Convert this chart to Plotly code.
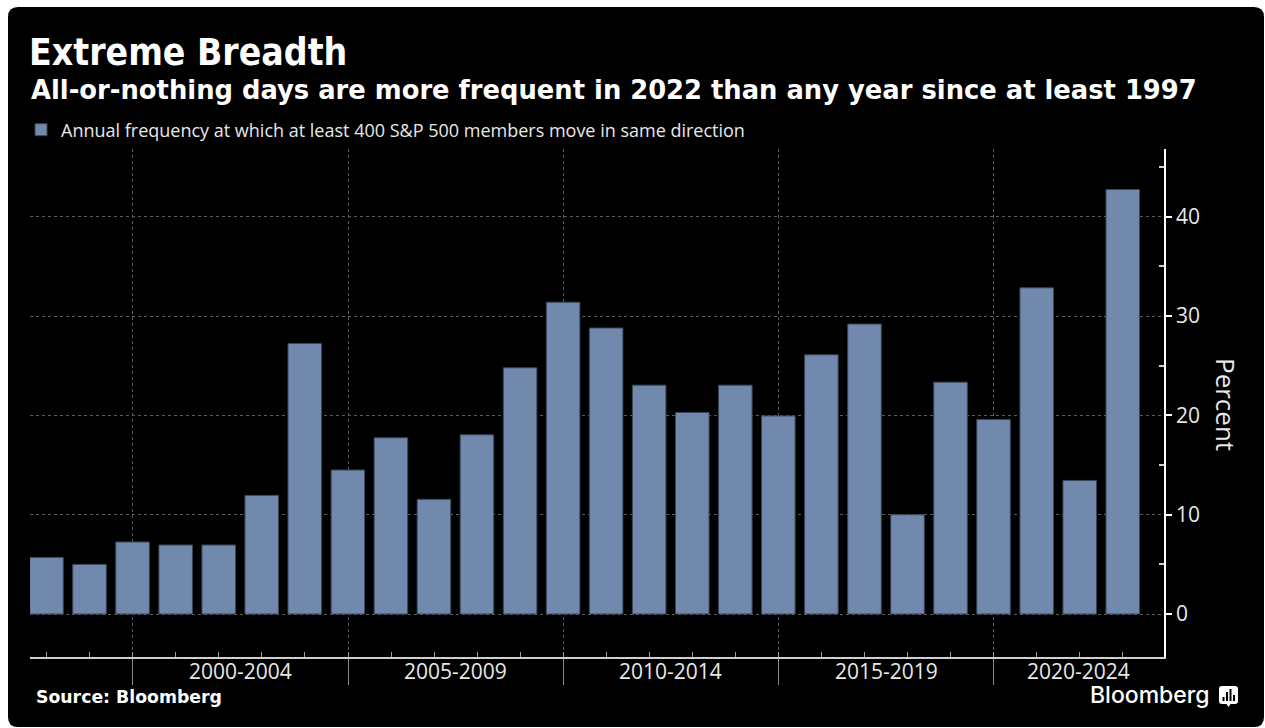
import pandas as pd
import plotly.graph_objects as go

# ---------------- data ----------------
years = list(range(1997, 2023))
frequency = [5.7, 5.0, 7.25, 6.95, 6.95, 11.95, 27.25, 14.5, 17.75, 11.55,
             18.05, 24.8, 31.4, 28.8, 23.05, 20.3, 23.05, 19.95, 26.1, 29.2,
             10.0, 23.35, 19.6, 32.85, 13.45, 42.75]
period_starts = ["2000-01-01", "2005-01-01", "2010-01-01", "2015-01-01", "2020-01-01"]
period_labels = ["2000-2004", "2005-2009", "2010-2014", "2015-2019", "2020-2024"]
y_ticks = [0, 10, 20, 30, 40]
x_range = ["1997-08-13", "2023-12-16"]
y_range = [-4.33, 46.83]
series_name = "Annual frequency at which at least 400 S&P 500 members move in same direction"

# ---------------- layout geometry ----------------
W, H = 1265, 728
ML, MR, MT, MB = 30, 101, 149, 71
PW, PH = W - ML - MR, H - MT - MB


def px(x):
    return (x - ML) / PW


def py(y):
    return (H - MB - y) / PH


BAR = "#7089ac"
TXT = "#e8e8e8"
GRID = "#5c5c5c"
COND_FONT = "DejaVu Sans Condensed, DejaVu Sans, Verdana, sans-serif"
WIDE_FONT = "DejaVu Sans, Verdana, sans-serif"
BODY_FONT = "Open Sans, Noto Sans, sans-serif"

bar_dates = [f"{y}-12-31" for y in years]

fig = go.Figure()
fig.add_trace(go.Bar(
    x=bar_dates, y=frequency, name=series_name,
    marker=dict(color=BAR, line=dict(color="#3a4658", width=1)),
    showlegend=True,
))

# rounded black card
x0, x1, y0, y1, r = 8, 1264, 7, 727, 10
path = (f"M {px(x0 + r)} {py(y0)} L {px(x1 - r)} {py(y0)} "
        f"Q {px(x1)} {py(y0)} {px(x1)} {py(y0 + r)} "
        f"L {px(x1)} {py(y1 - r)} Q {px(x1)} {py(y1)} {px(x1 - r)} {py(y1)} "
        f"L {px(x0 + r)} {py(y1)} Q {px(x0)} {py(y1)} {px(x0)} {py(y1 - r)} "
        f"L {px(x0)} {py(y0 + r)} Q {px(x0)} {py(y0)} {px(x0 + r)} {py(y0)} Z")
shapes = [dict(type="path", xref="paper", yref="paper", path=path,
               fillcolor="black", line=dict(width=0), layer="below")]

# Bloomberg icon (speech-bubble with bars)
ix0, ix1, iy0, iy1, ir = 1219, 1238, 686, 704, 3
ipath = (f"M {px(ix0 + ir)} {py(iy0)} L {px(ix1 - ir)} {py(iy0)} "
         f"Q {px(ix1)} {py(iy0)} {px(ix1)} {py(iy0 + ir)} "
         f"L {px(ix1)} {py(iy1 - ir)} Q {px(ix1)} {py(iy1)} {px(ix1 - ir)} {py(iy1)} "
         f"L {px(1230.5)} {py(iy1)} L {px(1228.5)} {py(iy1 + 3)} L {px(1226.5)} {py(iy1)} "
         f"L {px(ix0 + ir)} {py(iy1)} Q {px(ix0)} {py(iy1)} {px(ix0)} {py(iy1 - ir)} "
         f"L {px(ix0)} {py(iy0 + ir)} Q {px(ix0)} {py(iy0)} {px(ix0 + ir)} {py(iy0)} Z")
shapes.append(dict(type="path", xref="paper", yref="paper", path=ipath,
                   fillcolor="white", line=dict(width=0)))
for bx, btop in [(1222.5, 697), (1226, 692), (1229.5, 689), (1233, 695)]:
    shapes.append(dict(type="rect", xref="paper", yref="paper",
                       x0=px(bx), x1=px(bx + 2), y0=py(701), y1=py(btop),
                       fillcolor="black", line=dict(width=0)))

annotations = []
# period labels centred in each (visible) period
end = pd.Timestamp(x_range[1])
for i, (s, lab) in enumerate(zip(period_starts, period_labels)):
    a = pd.Timestamp(s)
    b = pd.Timestamp(period_starts[i + 1]) if i + 1 < len(period_starts) else end
    mid = a + (b - a) / 2
    annotations.append(dict(x=mid.strftime("%Y-%m-%d %H:%M"), xref="x", y=py(671), yref="paper",
                            text=lab, showarrow=False, xanchor="center", yanchor="middle",
                            font=dict(family=BODY_FONT, size=21, color=TXT)))

annotations += [
    dict(x=px(29), y=py(90), xref="paper", yref="paper", xanchor="left", yanchor="middle",
         text="<b>All-or-nothing days are more frequent in 2022 than any year since at least 1997</b>",
         showarrow=False, font=dict(family=WIDE_FONT, size=25.8, color="white")),
    dict(x=px(1226), y=py(404), xref="paper", yref="paper", xanchor="center", yanchor="middle",
         text="Percent", textangle=90, showarrow=False,
         font=dict(family=BODY_FONT, size=26, color=TXT)),
    dict(x=px(34), y=py(697), xref="paper", yref="paper", xanchor="left", yanchor="middle",
         text="<b>Source: Bloomberg</b>", showarrow=False,
         font=dict(family=WIDE_FONT, size=17.3, color="white")),
    dict(x=px(1212), y=py(695), xref="paper", yref="paper", xanchor="right", yanchor="middle",
         text="Bloomberg", showarrow=False,
         font=dict(family="Inter, Roboto, sans-serif", size=23, color="white", weight=500)),
]

fig.update_layout(
    width=W, height=H,
    margin=dict(l=ML, r=MR, t=MT, b=MB, pad=0),
    paper_bgcolor="white", plot_bgcolor="rgba(0,0,0,0)",
    bargap=0.22,
    title=dict(text="<b>Extreme Breadth</b>", x=29 / W, xanchor="left", xref="container",
               y=1 - 52 / H, yanchor="middle",
               font=dict(family=COND_FONT, size=37, color="white")),
    legend=dict(orientation="h", x=px(21), y=py(130), xanchor="left", yanchor="middle",
                bgcolor="rgba(0,0,0,0)", font=dict(family=BODY_FONT, size=18, color=TXT)),
    xaxis=dict(type="date", range=x_range, tickmode="array", tickvals=period_starts,
               showticklabels=False, ticks="outside", ticklen=26, tickcolor="#8a8a8a", tickwidth=1,
               showgrid=True, gridcolor=GRID, griddash="dot", gridwidth=1,
               showline=True, linecolor="#d0d0d0", linewidth=1.5, zeroline=False,
               minor=dict(ticks="inside", ticklen=5, tickcolor="#9a9a9a", tickwidth=1,
                          tick0="1998-01-01", dtick="M12", showgrid=False)),
    yaxis=dict(side="right", range=y_range, tickmode="array", tickvals=y_ticks,
               ticks="outside", ticklen=6, tickwidth=2, tickcolor="white",
               showline=True, linecolor="white", linewidth=1.5,
               showgrid=True, gridcolor=GRID, griddash="dot", gridwidth=1, zeroline=False,
               tickfont=dict(family=BODY_FONT, size=21, color=TXT),
               minor=dict(ticks="inside", ticklen=5, tickcolor="#cfcfcf", tick0=5, dtick=10,
                          showgrid=False)),
    shapes=shapes, annotations=annotations,
)

fig.write_html("out.html")
